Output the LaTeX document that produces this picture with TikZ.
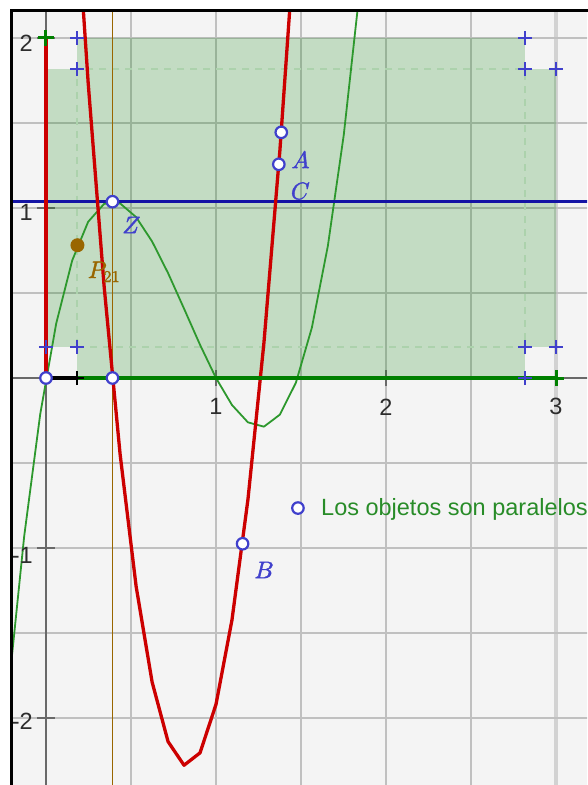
\documentclass[tikz,border=0pt]{standalone}
\usepackage{fontspec}
\setmainfont{Liberation Sans}
\newfontface\lmmath{latinmodern-math.otf}[FakeBold=1.6]
\definecolor{bgc}{RGB}{244,244,244}
\definecolor{gridc}{RGB}{192,192,192}
\definecolor{bandc}{RGB}{210,210,210}
\definecolor{axisc}{RGB}{105,105,105}
\definecolor{ggreen}{RGB}{0,128,0}
\definecolor{cgreen}{RGB}{45,152,45}
\definecolor{txtgreen}{RGB}{40,140,40}
\definecolor{gred}{RGB}{204,0,0}
\definecolor{lblue}{RGB}{20,20,165}
\definecolor{ptblue}{RGB}{64,64,204}
\definecolor{gbrown}{RGB}{153,102,0}
\definecolor{dashc}{RGB}{172,210,172}
\definecolor{numc}{RGB}{45,45,45}
\def\notch{0.183}
\begin{document}
\begin{tikzpicture}[x=170pt,y=170pt,
  gridline/.style={draw=gridc,line width=1.5pt},
  axisline/.style={draw=axisc,line width=2pt},
  openpt/.style={circle,draw=ptblue,fill=white,line width=2.2pt,minimum size=11.5pt,inner sep=0pt},
  fullpt/.style={circle,fill=gbrown,minimum size=14pt,inner sep=0pt},
  bluecross/.style={draw=ptblue,line width=2pt},
  greencross/.style={draw=ggreen,line width=3pt},
  blackcross/.style={draw=black,line width=2.5pt},
  mathlab/.style={inner sep=0pt,font=\fontsize{24}{24}\lmmath},
  numlab/.style={inner sep=0pt,text=numc,font=\fontsize{23.5}{23.5}\selectfont},
  dashline/.style={draw=dashc,line width=2pt,dash pattern=on 7pt off 6pt}]
\useasboundingbox (-0.270588,-2.394118) rectangle (3.182353,2.223529);
\fill[white] (-0.270588,-2.394118) rectangle (3.182353,2.223529);
\fill[bgc] (-0.2029,-2.394118) rectangle (3.182353,2.16176);
\begin{scope}
\clip (-0.2029,-2.394118) rectangle (3.182353,2.16176);
% grid
\foreach \gx in {0.5,1,1.5,2,2.5} \draw[gridline] (\gx,-2.5) -- (\gx,2.3);
\draw[draw=bandc,line width=4pt] (3,-2.5) -- (3,2.3);
\foreach \gy in {-2,-1.5,-1,-0.5,0.5,1,1.5,2} \draw[gridline] (-0.3,\gy) -- (3.3,\gy);
% axes
\draw[axisline] (0,-2.5) -- (0,2.3);
\draw[axisline] (-0.3,0) -- (3.3,0);
\foreach \tx in {1,2,3} \draw[axisline] (\tx,0) +(0,-8pt) -- +(0,8pt);
\foreach \ty in {-2,-1,1,2} \draw[axisline] (0,\ty) +(-9pt,0) -- +(9pt,0);
% shaded region
\coordinate (v1) at (\notch,2);
\coordinate (v2) at (3-\notch,2);
\coordinate (v3) at (3-\notch,2-\notch);
\coordinate (v4) at (3,2-\notch);
\coordinate (v5) at (3,\notch);
\coordinate (v6) at (3-\notch,\notch);
\coordinate (v7) at (3-\notch,0);
\coordinate (v8) at (\notch,0);
\coordinate (v9) at (\notch,\notch);
\coordinate (v10) at (0,\notch);
\coordinate (v11) at (0,2-\notch);
\coordinate (v12) at (\notch,2-\notch);
\fill[ggreen,fill opacity=0.2] (v1) -- (v2) -- (v3) -- (v4) -- (v5) -- (v6) -- (v7) -- (v8) -- (v9) -- (v10) -- (v11) -- (v12) -- cycle;
\draw[dashline] (v9) -- (v6) -- (v3) -- (v12) -- cycle;
% brown vertical line
\draw[draw=gbrown,line width=1.8pt] (0.391,-2.5) -- (0.391,2.3);
% green cubic
\draw[draw=cgreen,line width=1.8pt,line join=round] plot[domain=-0.222:1.846,samples=23] (\x,{4*\x*(\x-1)*(\x-1.48)});
% blue horizontal line
\draw[draw=lblue,line width=2.6pt] (-0.3,1.037) -- (3.3,1.037);
% red derivative curve
\draw[draw=gred,line width=3.3pt,line join=round] plot[domain=0.154:1.47,samples=15] (\x,{12*\x*\x-19.84*\x+5.92});
% segments
\coordinate (o) at (0,0);
\coordinate (top) at (0,2);
\coordinate (xend) at (3,0);
\draw[draw=gred,line width=3.3pt] (o) -- (top);
\draw[draw=black,line width=3.3pt] (o) -- (v8);
\draw[draw=ggreen,line width=3.3pt] (v8) -- (xend);
% crosses
\foreach \c in {v1,v2,v3,v4,v5,v6,v7,v9,v10,v12}
  \draw[bluecross] (\c) +(-7pt,0) -- +(7pt,0) (\c) +(0,-7pt) -- +(0,7pt);
\draw[blackcross] (v8) +(-7pt,0) -- +(7pt,0) (v8) +(0,-7pt) -- +(0,7pt);
\draw[greencross] (top) +(-8pt,0) -- +(8pt,0) (top) +(0,-8pt) -- +(0,8pt);
\draw[greencross] (xend) +(-8pt,0) -- +(8pt,0) (xend) +(0,-8pt) -- +(0,8pt);
% points
\node[openpt] (p0) at (0,0) {};
\node[openpt] (p1) at (0.391,0) {};
\node[openpt] (pZ) at (0.391,1.037) {};
\node[openpt] (pA) at (1.3696,1.257) {};
\node[openpt] (pU) at (1.3839,1.445) {};
\node[openpt] (pB) at (1.1565,-0.975) {};
\node[openpt] (pT) at (1.482,-0.765) {};
\node[fullpt] (pP) at (0.185,0.781) {};
% labels
\node[mathlab,text=ptblue] (lA) at (1.4971,1.2853) {𝐴};
\node[mathlab,text=ptblue] (lC) at (1.4912,1.1) {𝐶};
\node[mathlab,text=ptblue] (lZ) at (0.497,0.9) {𝑍};
\node[mathlab,text=ptblue] (lB) at (1.2794,-1.1294) {𝐵};
\node[mathlab,text=gbrown,anchor=base west] (lP) at (0.245,0.588) {𝑃\raisebox{-4pt}{\fontsize{16.5}{16.5}\lmmath 21}};
\node[inner sep=0pt,text=txtgreen,anchor=base west,font=\fontsize{23.5}{24}\selectfont] (msg) at (1.6176,-0.806) {Los objetos son paralelos};
% axis numbers
\node[numlab] (n1) at (1,-0.17) {1};
\node[numlab] (n2) at (2,-0.17) {2};
\node[numlab] (n3) at (3,-0.17) {3};
\node[numlab,anchor=east] (m2) at (-0.0765,1.969) {2};
\node[numlab,anchor=east] (m1) at (-0.0765,0.974) {1};
\node[numlab,anchor=east] (mm1) at (-0.0765,-1.041) {-1};
\node[numlab,anchor=east] (mm2) at (-0.0765,-2.022) {-2};
\end{scope}
% frame
\draw[line width=3pt] (-0.20294,-2.5) -- (-0.20294,2.16176) -- (3.3,2.16176);
\end{tikzpicture}
\end{document}
